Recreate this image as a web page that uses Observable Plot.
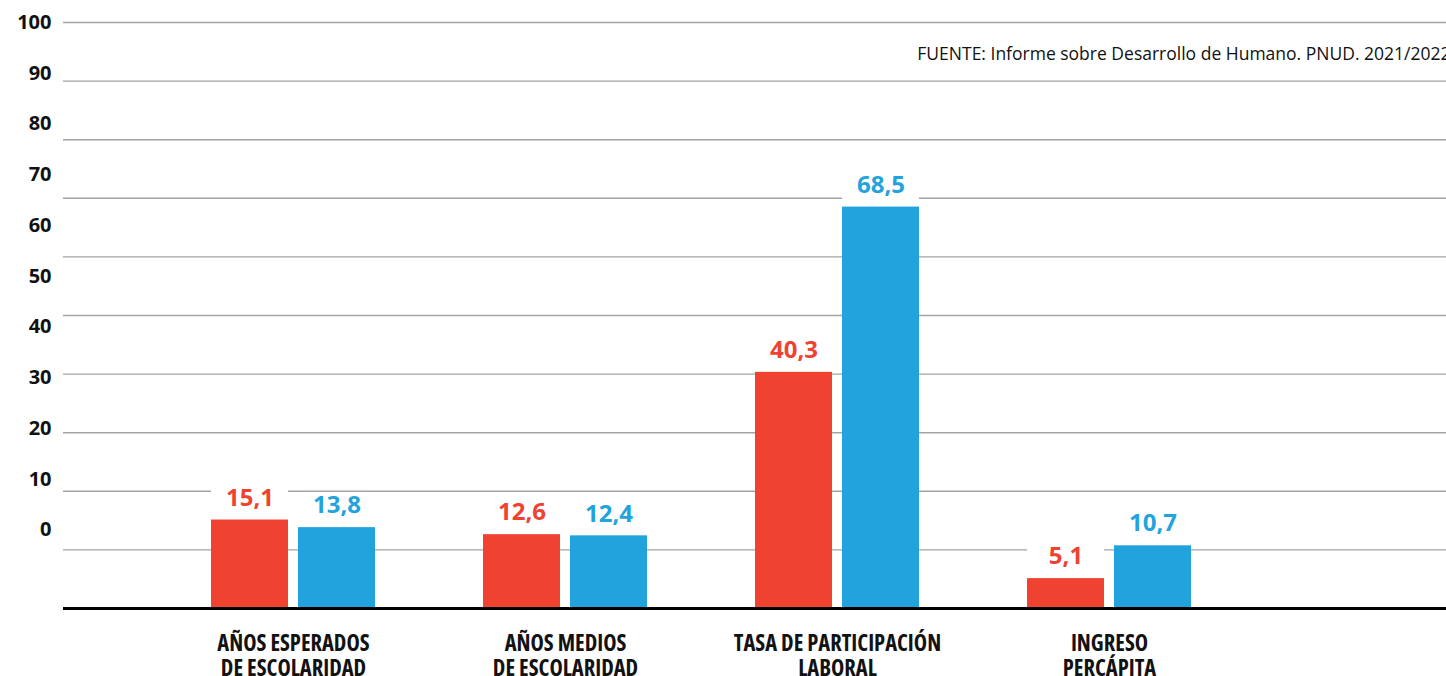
<!DOCTYPE html>
<html>
<head>
<meta charset="utf-8">
<script src="https://cdn.jsdelivr.net/npm/d3@7"></script>
<script src="https://cdn.jsdelivr.net/npm/@observablehq/plot@0.6"></script>
<style>
  html, body { margin: 0; padding: 0; background: #fff; }
  #chart svg { display: block; }
  g[fill="#121212"] { font-stretch: semi-condensed; }
</style>
</head>
<body>
<div id="chart"></div>
<script>
// ---- data ----
const categories = [
  "AÑOS ESPERADOS\nDE ESCOLARIDAD",
  "AÑOS MEDIOS\nDE ESCOLARIDAD",
  "TASA DE PARTICIPACIÓN\nLABORAL",
  "INGRESO\nPERCÁPITA"
];
const seriesNames = ["Mujeres", "Hombres"];
const mujeres = [15.1, 12.6, 40.3, 5.1];
const hombres = [13.8, 12.4, 68.5, 10.7];
const yTicks = [0, 10, 20, 30, 40, 50, 60, 70, 80, 90, 100];
const sourceText = "FUENTE: Informe sobre Desarrollo de Humano. PNUD. 2021/2022";

// ---- styles ----
const RED = "#ef4230";
const BLUE = "#23a3dd";
const CAT_INK = "#121212";
const FONT = "'Open Sans', sans-serif";

const fmt = d3.formatLocale({decimal: ",", thousands: ".", grouping: [3], currency: ["", ""]}).format(".1f");

const rowsM = categories.map((c, i) => ({cat: c, serie: seriesNames[0], value: mujeres[i]}));
const rowsH = categories.map((c, i) => ({cat: c, serie: seriesNames[1], value: hombres[i]}));

// tick labels in the original sit on a compressed ladder from ~13.4 up to 100
const labelPos = d3.scaleLinear().domain([0, 100]).range([13.4, 100]);

const W = 1446, H = 676;
const pairInset = 87;   // each bar covers part of the category band
const halfStep = 43.5;  // label offset from band centre

const chart = Plot.plot({
  width: W,
  height: H,
  marginTop: 22,
  marginBottom: 68,
  marginLeft: 63,
  marginRight: 0,
  style: {fontFamily: FONT, background: "#fff", color: "#111"},
  x: {type: "band", domain: categories, range: [103, 1299], padding: 0.397, axis: null},
  y: {domain: [0, 100], axis: null},
  marks: [
    // grid
    Plot.ruleY(yTicks.filter(d => d > 0), {stroke: "#a3a3a3", strokeWidth: 1.4}),
    // white boxes behind value labels
    Plot.barY(rowsM, {x: "cat", y1: "value", y2: d => d.value + 6, fill: "#fff", insetRight: pairInset}),
    Plot.barY(rowsH, {x: "cat", y1: "value", y2: d => d.value + 6, fill: "#fff", insetLeft: pairInset}),
    // bars
    Plot.barY(rowsM, {x: "cat", y: "value", fill: RED, insetRight: pairInset}),
    Plot.barY(rowsH, {x: "cat", y: "value", fill: BLUE, insetLeft: pairInset}),
    // value labels
    Plot.text(rowsM, {x: "cat", y: "value", text: d => fmt(d.value), dx: -halfStep, dy: -22, fill: RED, fontSize: 24, fontWeight: "bold"}),
    Plot.text(rowsH, {x: "cat", y: "value", text: d => fmt(d.value), dx: halfStep, dy: -22, fill: BLUE, fontSize: 24, fontWeight: "bold"}),
    // baseline
    Plot.ruleY([0], {stroke: "#000", strokeWidth: 3}),
    // y tick labels
    Plot.text(yTicks, {y: d => labelPos(d), text: d => String(d), frameAnchor: "left", textAnchor: "end", dx: -12, fontSize: 20, fontWeight: "bold", fill: "#111"}),
    // category labels
    Plot.text(categories, {x: d => d, text: d => d, frameAnchor: "bottom", lineAnchor: "top", dy: 25, lineHeight: 1.1, fontSize: 22.5, fontWeight: "bold", fill: CAT_INK}),
    // source
    Plot.text([sourceText], {text: d => d, frameAnchor: "top-right", textAnchor: "end", dx: 4, dy: 25, fontSize: 17.5, fill: "#111"})
  ]
});

document.getElementById("chart").appendChild(chart);
</script>
</body>
</html>
